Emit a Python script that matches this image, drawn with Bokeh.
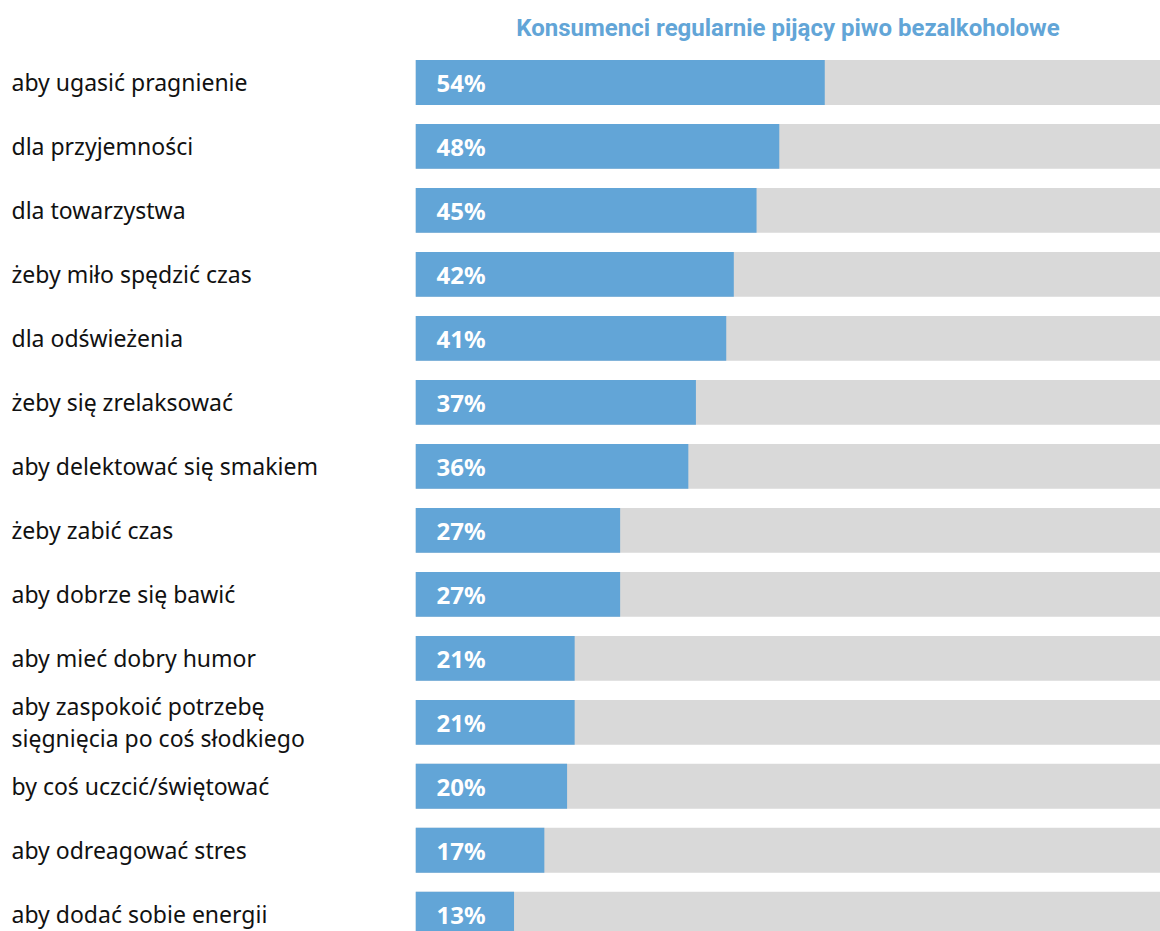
from bokeh.plotting import figure
from bokeh.layouts import row
from bokeh.models import Range1d, ColumnDataSource
from bokeh.core.properties import value
from bokeh.embed import file_html
from bokeh.resources import INLINE

title_text = "Konsumenci regularnie pijący piwo bezalkoholowe"
categories = [
    "aby ugasić pragnienie",
    "dla przyjemności",
    "dla towarzystwa",
    "żeby miło spędzić czas",
    "dla odświeżenia",
    "żeby się zrelaksować",
    "aby delektować się smakiem",
    "żeby zabić czas",
    "aby dobrze się bawić",
    "aby mieć dobry humor",
    "aby zaspokoić potrzebę\nsięgnięcia po coś słodkiego",
    "by coś uczcić/świętować",
    "aby odreagować stres",
    "aby dodać sobie energii",
]
values = [54, 48, 45, 42, 41, 37, 36, 27, 27, 21, 21, 20, 17, 13]

BLUE = "#62a5d7"
GRAY = "#d9d9d9"

idx = list(range(len(categories)))
src = ColumnDataSource(dict(
    y=idx,
    cat=categories,
    val=values,
    full=[100] * len(values),
    lab=[f"{v}%" for v in values],
))

y_range = Range1d(start=13.27, end=-0.5)

left = figure(width=415, height=931, x_range=Range1d(0, 1), y_range=y_range,
              output_backend="svg", toolbar_location=None,
              min_border_left=0, min_border_right=0, min_border_top=50,
              min_border_bottom=0, outline_line_color=None)
left.axis.visible = False
left.grid.visible = False
left.text(x=0, y="y", text="cat", source=src, x_offset=11,
          text_font=value("Noto Sans"), text_font_size="23px",
          text_color="#111111", text_align="left", text_baseline="middle",
          text_line_height=1.0)

p = figure(width=745, height=931, x_range=Range1d(0, 98.3), y_range=y_range,
           output_backend="svg", toolbar_location=None,
           min_border_left=0, min_border_right=0, min_border_top=50,
           min_border_bottom=0, outline_line_color=None)
p.axis.visible = False
p.grid.visible = False
p.hbar(y="y", left=0, right="full", height=0.70, source=src,
       fill_color=GRAY, line_color=None)
p.hbar(y="y", left=0, right="val", height=0.70, source=src,
       fill_color=BLUE, line_color=None)
p.text(x=0, y="y", text="lab", source=src, x_offset=21,
       text_font=value("Noto Sans"), text_font_style="bold",
       text_font_size="24px", text_color="white",
       text_align="left", text_baseline="middle")

p.title.text = title_text
p.title.align = "center"
p.title.text_color = BLUE
p.title.text_font = "Roboto"
p.title.text_font_style = "bold"
p.title.text_font_size = "24px"
p.title.standoff = 18

layout = row(left, p, spacing=0)
open("out.html", "w").write(file_html(layout, INLINE))
